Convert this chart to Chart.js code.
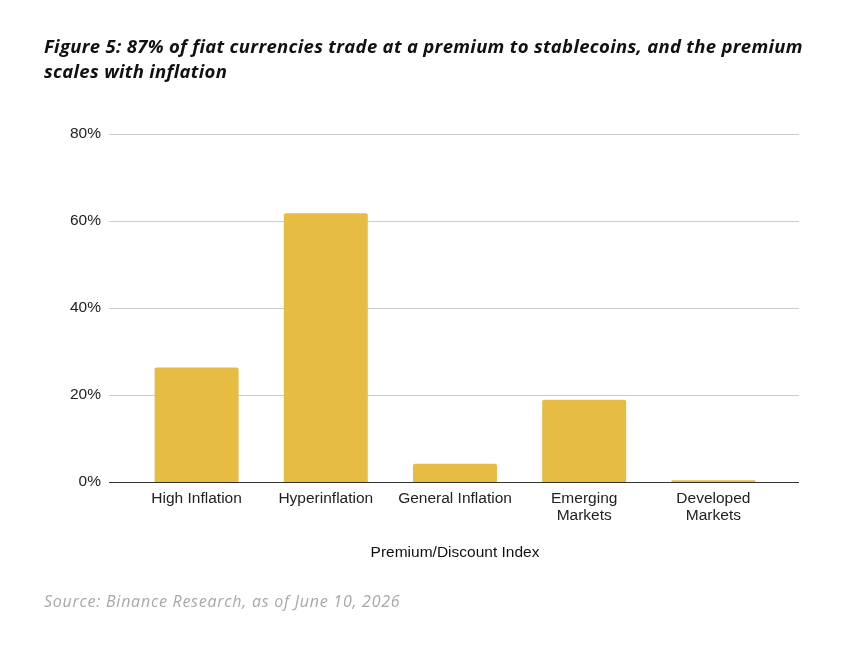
<!DOCTYPE html>
<html>
<head>
<meta charset="utf-8">
<script src="https://cdn.jsdelivr.net/npm/chart.js@4"></script>
<style>
  body { margin: 0; background: #fff; }
  #wrap { position: relative; width: 866px; height: 650px; }
  #chart { position: absolute; left: 0; top: 0; }
  .title {
    position: absolute; left: 44px; top: 33px; width: 820px;
    font-family: 'Open Sans', sans-serif; font-style: italic; font-weight: 700;
    font-size: 18.5px; letter-spacing: 0.3px; line-height: 25px; color: #111;
  }
  .source {
    position: absolute; left: 44px; top: 590px;
    font-family: 'Open Sans', sans-serif; font-style: italic;
    font-size: 16px; letter-spacing: 0.75px; color: #a8a8a8;
  }
</style>
</head>
<body>
<div id="wrap">
  <canvas id="chart" width="866" height="650"></canvas>
  <div class="title">Figure 5: 87% of fiat currencies trade at a premium to stablecoins, and the premium<br>scales with inflation</div>
  <div class="source">Source: Binance Research, as of June 10, 2026</div>
</div>
<script>
const categories = ['High Inflation', 'Hyperinflation', 'General Inflation', ['Emerging', 'Markets'], ['Developed', 'Markets']];
const premiumValues = [26.3, 61.8, 4.2, 18.9, 0.4];
const yTicks = [0, 20, 40, 60, 80];

const ctx = document.getElementById('chart').getContext('2d');

// gridlines and baseline run wider than the category band, like the original
const wideGrid = {
    id: 'wideGrid',
    beforeDatasetsDraw(chart) {
        const y = chart.scales.y;
        const c = chart.ctx;
        c.save();
        c.strokeStyle = '#cccccc';
        c.lineWidth = 1;
        yTicks.forEach(v => {
            if (v === 0) return;
            const py = Math.round(y.getPixelForValue(v)) + 0.5;
            c.beginPath();
            c.moveTo(109, py);
            c.lineTo(799, py);
            c.stroke();
        });
        c.restore();
    },
    afterDatasetsDraw(chart) {
        const y = chart.scales.y;
        const c = chart.ctx;
        const py = Math.round(y.getPixelForValue(0)) + 0.5;
        c.save();
        c.strokeStyle = '#333333';
        c.lineWidth = 1;
        c.beginPath();
        c.moveTo(109, py);
        c.lineTo(799, py);
        c.stroke();
        c.restore();
    }
};

new Chart(ctx, {
    type: 'bar',
    data: {
        labels: categories,
        datasets: [{
            data: premiumValues,
            backgroundColor: '#E7BC42',
            borderRadius: 2,
            borderSkipped: 'bottom',
            barPercentage: 0.65,
            categoryPercentage: 1
        }]
    },
    options: {
        responsive: false,
        animation: false,
        layout: { padding: { left: 0, right: 88, top: 134, bottom: 88 } },
        plugins: {
            legend: { display: false },
            tooltip: { enabled: false }
        },
        scales: {
            x: {
                grid: { display: false, drawTicks: false },
                border: { display: false },
                ticks: {
                    color: '#222',
                    padding: 9,
                    maxRotation: 0,
                    autoSkip: false,
                    font: { family: 'Liberation Sans', size: 15.5, lineHeight: 1.05 }
                },
                title: {
                    display: true,
                    text: 'Premium/Discount Index',
                    color: '#111',
                    padding: 0,
                    font: { family: 'Liberation Sans', size: 15.5 }
                },
                afterFit(scale) { scale.height = 80; }
            },
            y: {
                min: 0,
                max: 80,
                grid: { display: false, drawTicks: false },
                border: { display: false },
                ticks: {
                    stepSize: 20,
                    padding: 31,
                    color: '#222',
                    font: { family: 'Liberation Sans', size: 15.5 },
                    callback: v => v + '%'
                },
                afterFit(scale) { scale.width = 132; }
            }
        }
    },
    plugins: [wideGrid]
});
</script>
</body>
</html>
